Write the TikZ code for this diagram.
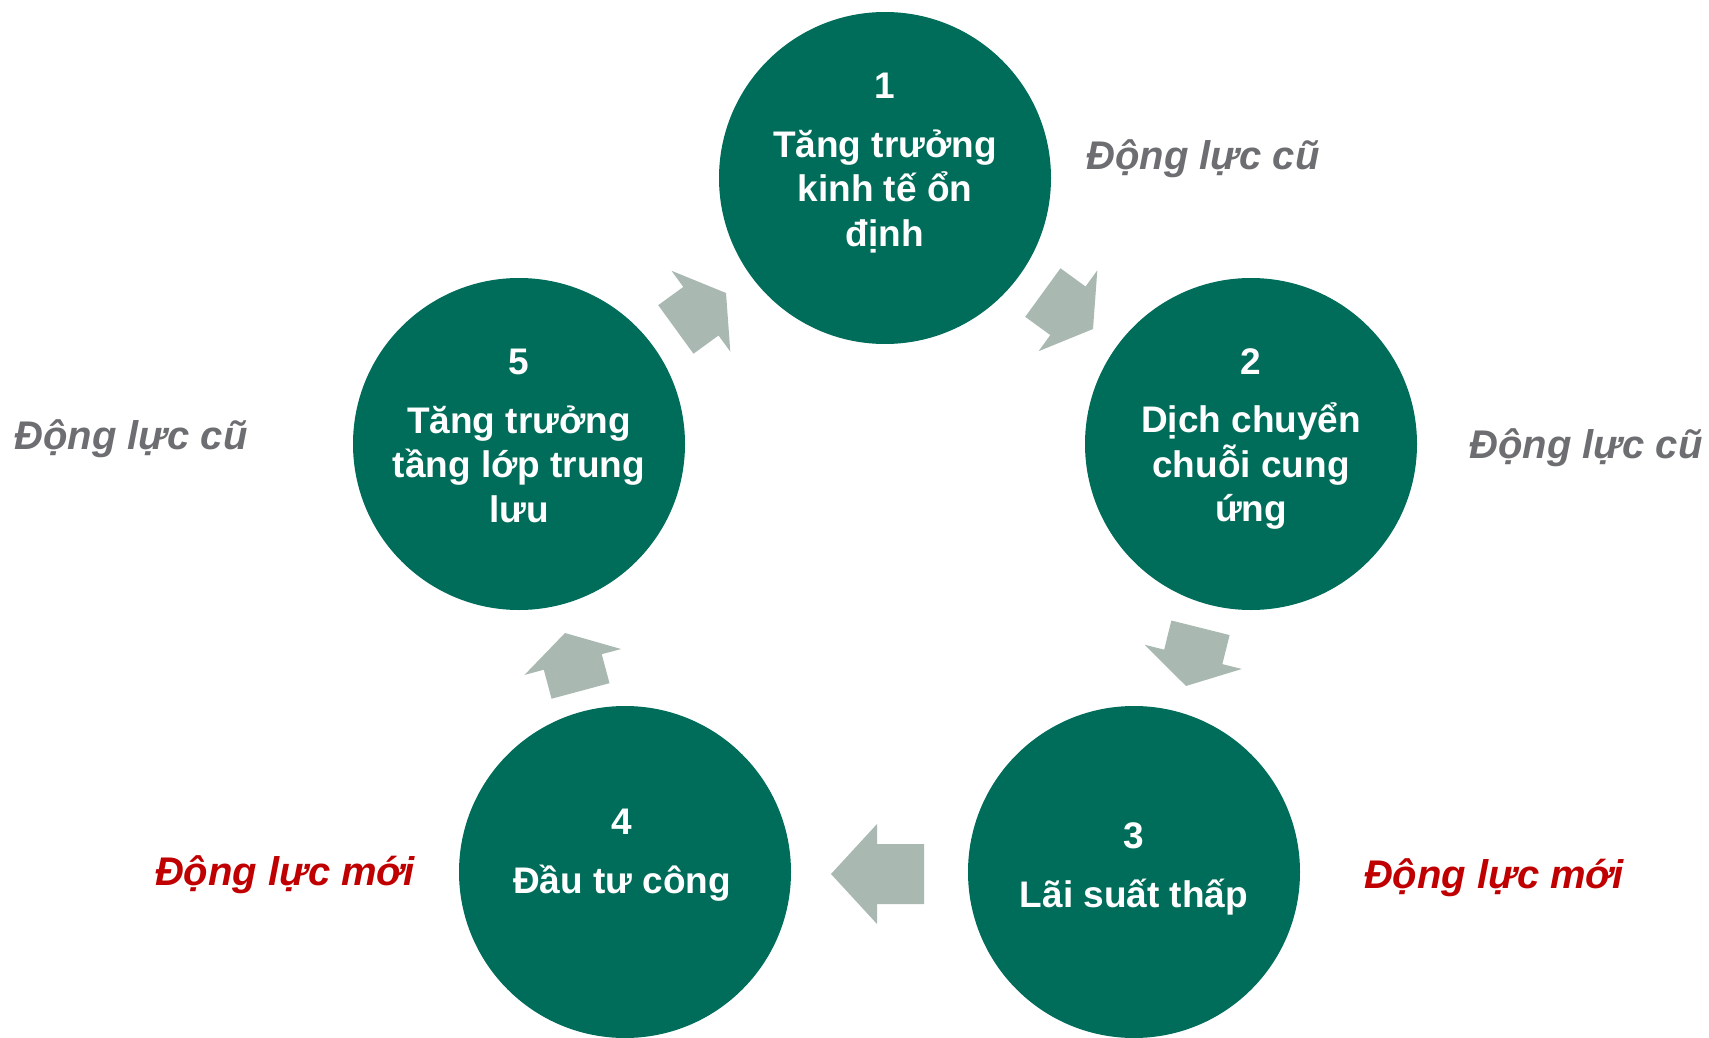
\documentclass[tikz,border=0pt]{standalone}
\usepackage{fontspec}
\setmainfont{Liberation Sans}
\definecolor{circlegreen}{HTML}{006D5B}
\definecolor{arrowgray}{HTML}{A9B9B1}
\definecolor{oldgray}{HTML}{6D6E71}
\definecolor{newred}{HTML}{C00000}

\begin{document}
\begin{tikzpicture}[x=1pt,y=-1pt,
    main node/.style={circle,fill=circlegreen,minimum size=332pt,inner sep=0pt},
    inner text/.style={text=white,align=center,inner sep=0pt,font=\bfseries\fontsize{37}{44.5}\selectfont},
    old driver/.style={text=oldgray,inner sep=0pt,font=\bfseries\itshape\fontsize{40}{44}\selectfont},
    new driver/.style={text=newred,inner sep=0pt,font=\bfseries\itshape\fontsize{40}{44}\selectfont},
    block/.style={fill=arrowgray}]

    \useasboundingbox (0,0) rectangle (1709,1038);

    % the five circles
    \node[main node] (1) at (885,178) {};
    \node[main node] (2) at (1251,444) {};
    \node[main node] (3) at (1134,872) {};
    \node[main node] (4) at (625,872) {};
    \node[main node] (5) at (519,444) {};

    \node[inner text] (t1) at (885,163) {1\\[14pt]Tăng trưởng\\kinh tế ổn\\định};
    \node[inner text] (t2) at (1251,439) {2\\[14pt]Dịch chuyển\\chuỗi cung\\ứng};
    \node[inner text] (t3) at (1134,869) {3\\[14pt]Lãi suất thấp};
    \node[inner text] (t4) at (622,855) {4\\[14pt]Đầu tư công};
    \node[inner text] (t5) at (519,436) {5\\[14pt]Tăng trưởng\\tầng lớp trung\\lưu};

    % drivers
    \node[old driver] (d1) at (1203,159) {Động lực cũ};
    \node[old driver] (d2) at (1586,448) {Động lực cũ};
    \node[old driver] (d5) at (131,439) {Động lực cũ};
    \node[new driver] (d3) at (1494,878) {Động lực mới};
    \node[new driver] (d4) at (285,875) {Động lực mới};

    % block arrows: tip x / tip y / angle / head / shaft
    \foreach \x/\y/\a/\h/\s in {726/293/36/31/31, 1093/329/-36/31/31,
                               1186/686/-104/30/30, 831/874/180/46/47,
                               565/633/105/30/30}
        \fill[block,shift={(\x,\y)},rotate=\a]
            (0,0) -- (-\h,50) -- (-\h,30) -- (-\h-\s,30)
            -- (-\h-\s,-30) -- (-\h,-30) -- (-\h,-50) -- cycle;
\end{tikzpicture}
\end{document}
